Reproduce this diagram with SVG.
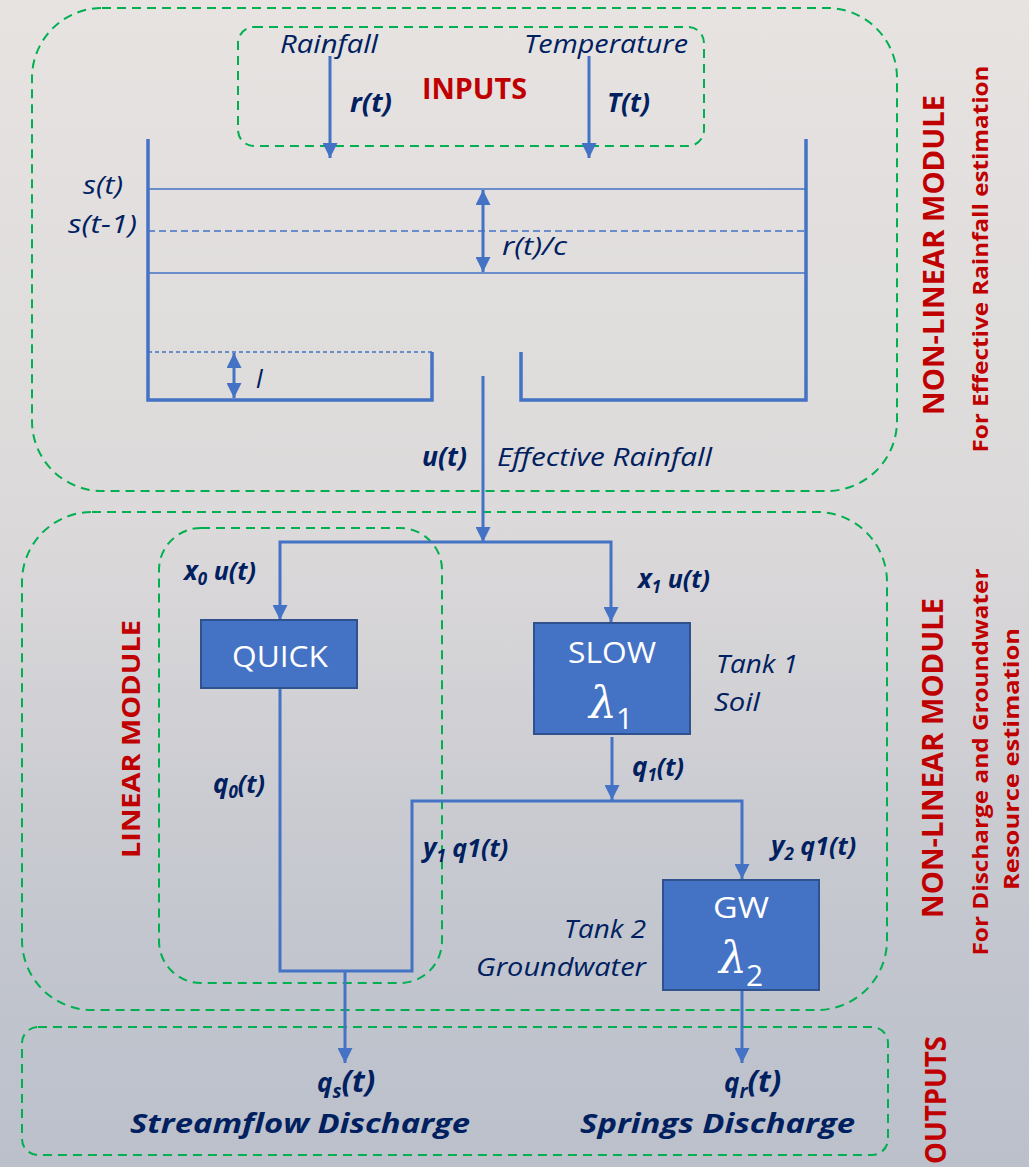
<svg xmlns="http://www.w3.org/2000/svg" width="1029" height="1167" viewBox="0 0 1029 1167">
<defs>
<linearGradient id="bg" x1="0" y1="0" x2="0" y2="1">
<stop offset="0" stop-color="#e6e3e1"/>
<stop offset="0.45" stop-color="#dcd9da"/>
<stop offset="0.8" stop-color="#c3c6ce"/>
<stop offset="1" stop-color="#bbc0cb"/>
</linearGradient>
<marker id="ah" viewBox="0 0 10 10" refX="10" refY="5" markerWidth="15" markerHeight="15" markerUnits="userSpaceOnUse" orient="auto-start-reverse">
<path d="M0,0 L10,5 L0,10 z" fill="#4472c4"/>
</marker>
<style>
.grp{fill:none;stroke:#00b050;stroke-width:2;stroke-dasharray:9 6}
.wall{fill:none;stroke:#4472c4;stroke-width:3.5}
.thin{fill:none;stroke:#4472c4;stroke-width:1.5}
.con{fill:none;stroke:#4472c4;stroke-width:3}
.box{fill:#4472c4;stroke:#2f528f;stroke-width:2}
.t{font-family:"Open Sans","Liberation Sans",sans-serif;fill:#002060;font-style:italic;font-size:26px}
.b{font-weight:bold}
.red{font-family:"Open Sans","Liberation Sans",sans-serif;fill:#c00000;font-weight:bold}
.w{font-family:"Open Sans","Liberation Sans",sans-serif;fill:#ffffff;font-size:30px}
.lam{font-family:"DejaVu Serif","Liberation Serif",serif;fill:#ffffff;font-style:italic;font-size:44px}
</style>
</defs>
<rect x="0" y="0" width="1029" height="1167" fill="url(#bg)"/>

<g id="groups">
<rect id="g-nonlinear1" class="grp" x="32" y="8" width="865" height="483" rx="70" ry="70"/>
<rect id="g-inputs" class="grp" x="238" y="27" width="466" height="119" rx="16" ry="16"/>
<rect id="g-nonlinear2" class="grp" x="22" y="512" width="865" height="498" rx="70" ry="70"/>
<rect id="g-linear" class="grp" x="159" y="528" width="283" height="455" rx="42" ry="42"/>
<rect id="g-outputs" class="grp" x="22" y="1027" width="866" height="128" rx="16" ry="16"/>
</g>

<g id="tank">
<path class="wall" d="M148,139 V400 H432 V352"/>
<path class="wall" d="M521,352 V400 H806 V139"/>
<line class="thin" x1="148" y1="189" x2="806" y2="189"/>
<line class="thin" x1="148" y1="231" x2="806" y2="231" stroke-dasharray="7 4"/>
<line class="thin" x1="148" y1="273" x2="806" y2="273"/>
<line class="thin" x1="148" y1="352" x2="432" y2="352" stroke-width="1.2" stroke-dasharray="4 3"/>
<line class="con" x1="483" y1="190" x2="483" y2="272" stroke-width="2.5" marker-start="url(#ah)" marker-end="url(#ah)"/>
<line class="con" x1="234" y1="353" x2="234" y2="398" stroke-width="2.5" marker-start="url(#ah)" marker-end="url(#ah)"/>
<text class="t" x="123" y="194" text-anchor="end" textLength="40" lengthAdjust="spacingAndGlyphs">s(t)</text>
<text class="t" x="137" y="233" text-anchor="end" textLength="69" lengthAdjust="spacingAndGlyphs">s(t-1)</text>
<text class="t" x="502" y="255" textLength="65" lengthAdjust="spacingAndGlyphs">r(t)/c</text>
<text class="t" x="256" y="388">l</text>
</g>

<g id="connectors">
<line class="con" x1="330" y1="56" x2="330" y2="158" stroke-width="2" marker-end="url(#ah)"/>
<line class="con" x1="589" y1="56" x2="589" y2="158" stroke-width="2" marker-end="url(#ah)"/>
<line class="con" x1="483" y1="376" x2="483" y2="542" marker-end="url(#ah)"/>
<path class="con" d="M483,542 H280 V620" marker-end="url(#ah)"/>
<path class="con" d="M483,542 H611 V622" marker-end="url(#ah)"/>
<path class="con" d="M612,737 V800" marker-end="url(#ah)"/>
<path class="con" d="M280,688 V971 H412 V801 H742 V879" marker-end="url(#ah)"/>
<path class="con" d="M345,971 V1063" marker-end="url(#ah)"/>
<path class="con" d="M742,990 V1063" marker-end="url(#ah)"/>
</g>

<g id="inputs-labels">
<text class="t" x="280" y="53" textLength="98" lengthAdjust="spacingAndGlyphs">Rainfall</text>
<text class="t" x="524" y="53" textLength="164" lengthAdjust="spacingAndGlyphs">Temperature</text>
<text class="t b" x="350" y="112" textLength="42" lengthAdjust="spacingAndGlyphs">r(t)</text>
<text class="t b" x="607" y="112" textLength="43" lengthAdjust="spacingAndGlyphs">T(t)</text>
<text class="red" x="422" y="99" font-size="28" textLength="105" lengthAdjust="spacingAndGlyphs">INPUTS</text>
</g>

<g id="effective">
<text class="t b" x="422" y="466" textLength="45" lengthAdjust="spacingAndGlyphs">u(t)</text>
<text class="t" x="497" y="466" textLength="215" lengthAdjust="spacingAndGlyphs">Effective Rainfall</text>
<text class="t b" x="184" y="580" font-size="25">x<tspan font-size="17" dy="5">0</tspan><tspan dy="-5" font-size="25"> u(t)</tspan></text>
<text class="t b" x="638" y="588" font-size="25">x<tspan font-size="17" dy="5">1</tspan><tspan dy="-5" font-size="25"> u(t)</tspan></text>
</g>

<g id="quick">
<rect class="box" x="201" y="620" width="156" height="68"/>
<text class="w" x="280" y="667" text-anchor="middle" textLength="96" lengthAdjust="spacingAndGlyphs">QUICK</text>
</g>

<g id="slow">
<rect class="box" x="534" y="623" width="156" height="111"/>
<text class="w" x="612" y="663" text-anchor="middle" textLength="88" lengthAdjust="spacingAndGlyphs">SLOW</text>
<text class="lam" x="589" y="718">λ</text>
<text class="w" x="616" y="729">1</text>
<text class="t" x="716" y="673" textLength="82" lengthAdjust="spacingAndGlyphs">Tank 1</text>
<text class="t" x="714" y="711" textLength="46" lengthAdjust="spacingAndGlyphs">Soil</text>
</g>

<g id="flow-labels">
<text class="t b" x="632" y="776" font-size="25">q<tspan font-size="17" dy="5">1</tspan><tspan dy="-5" font-size="25">(t)</tspan></text>
<text class="t b" x="213" y="793" font-size="25">q<tspan font-size="17" dy="5">0</tspan><tspan dy="-5" font-size="25">(t)</tspan></text>
<text class="t b" x="423" y="857" font-size="25">y<tspan font-size="17" dy="5">1</tspan><tspan dy="-5" font-size="25"> q1(t)</tspan></text>
<text class="t b" x="771" y="855" font-size="25">y<tspan font-size="17" dy="5">2</tspan><tspan dy="-5" font-size="25"> q1(t)</tspan></text>
</g>

<g id="gw">
<rect class="box" x="663" y="880" width="156" height="110"/>
<text class="w" x="741" y="918" text-anchor="middle" textLength="56" lengthAdjust="spacingAndGlyphs">GW</text>
<text class="lam" x="719" y="973">λ</text>
<text class="w" x="746" y="986">2</text>
<text class="t" x="646" y="938" text-anchor="end" textLength="82" lengthAdjust="spacingAndGlyphs">Tank 2</text>
<text class="t" x="646" y="976" text-anchor="end" textLength="170" lengthAdjust="spacingAndGlyphs">Groundwater</text>
</g>

<g id="outputs">
<text class="t b" x="317" y="1092" font-size="31">q<tspan font-size="19" dy="6">s</tspan><tspan dy="-6" font-size="31">(t)</tspan></text>
<text class="t b" x="130" y="1133" font-size="33" textLength="340" lengthAdjust="spacingAndGlyphs">Streamflow Discharge</text>
<text class="t b" x="724" y="1092" font-size="31">q<tspan font-size="19" dy="6">r</tspan><tspan dy="-6" font-size="31">(t)</tspan></text>
<text class="t b" x="580" y="1133" font-size="33" textLength="275" lengthAdjust="spacingAndGlyphs">Springs Discharge</text>
</g>

<g id="side-labels">
<text class="red" transform="translate(944,255) rotate(-90)" text-anchor="middle" font-size="28" textLength="320" lengthAdjust="spacingAndGlyphs">NON-LINEAR MODULE</text>
<text class="red" transform="translate(988,259) rotate(-90)" text-anchor="middle" font-size="21" textLength="387" lengthAdjust="spacingAndGlyphs">For Effective Rainfall estimation</text>
<text class="red" transform="translate(943,758) rotate(-90)" text-anchor="middle" font-size="28" textLength="320" lengthAdjust="spacingAndGlyphs">NON-LINEAR MODULE</text>
<text class="red" transform="translate(988,762) rotate(-90)" text-anchor="middle" font-size="21" textLength="387" lengthAdjust="spacingAndGlyphs">For Discharge and Groundwater</text>
<text class="red" transform="translate(1019,759) rotate(-90)" text-anchor="middle" font-size="21" textLength="262" lengthAdjust="spacingAndGlyphs">Resource estimation</text>
<text class="red" transform="translate(946,1100) rotate(-90)" text-anchor="middle" font-size="28" textLength="128" lengthAdjust="spacingAndGlyphs">OUTPUTS</text>
<text class="red" transform="translate(140,739) rotate(-90)" text-anchor="middle" font-size="25" textLength="238" lengthAdjust="spacingAndGlyphs">LINEAR MODULE</text>
</g>
</svg>
